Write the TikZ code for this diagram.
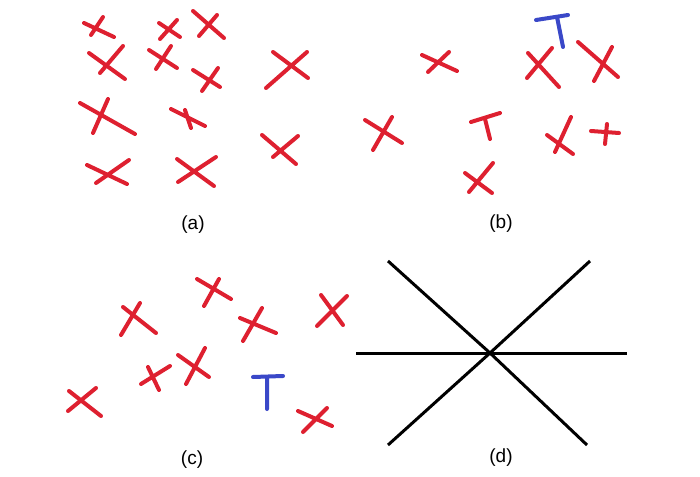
\documentclass[tikz,border=0pt]{standalone}
\usepackage{xcolor}
\usepackage{fontspec}
\setmainfont{Liberation Sans}
\usepackage{tikz}
\definecolor{penred}{RGB}{222,32,48}
\definecolor{penblue}{RGB}{58,72,200}

\begin{document}
\begin{tikzpicture}[
  x=0.5pt, y=-0.5pt,
  xmark/.style={draw=penred, line width=2pt, line cap=round},
  tmark/.style={draw=penblue, line width=2pt, line cap=round},
  ray/.style={draw=black, line width=1.5pt},
  lbl/.style={font=\fontsize{9.5}{11}\selectfont, inner sep=0pt}
]
\useasboundingbox (0,0) rectangle (700,476);

% (a)
\draw[xmark] (84,23) -- (114,37) (103,17) -- (91,35);
\draw[xmark] (159,23) -- (180,37) (177,20) -- (160,39);
\draw[xmark] (193,11) -- (224,38) (217,15) -- (199,36);
\draw[xmark] (89,53) -- (125,79) (123,46) -- (100,73);
\draw[xmark] (149,50) -- (177,68) (171,46) -- (156,69);
\draw[xmark] (193,70) -- (220,87) (218,68) -- (202,91);
\draw[xmark] (273,52) -- (308,78) (307,52) -- (266,88);
\draw[xmark] (80,103) -- (135,134) (108,99) -- (93,133);
\draw[xmark] (171,109) -- (205,126) (185,110) -- (191,128);
\draw[xmark] (262,135) -- (296,164) (298,136) -- (273,157);
\draw[xmark] (87,165) -- (127,184) (129,160) -- (96,183);
\draw[xmark] (177,159) -- (214,186) (216,157) -- (178,182);
\node[lbl] (lbla) at (193,225) {(a)};

% (b)
\draw[tmark] (536,20) -- (568,15) (557,17) -- (563,47);
\draw[xmark] (422,55) -- (457,71) (449,52) -- (428,72);
\draw[xmark] (528,53) -- (559,87) (552,48) -- (527,78);
\draw[xmark] (578,42) -- (618,77) (612,47) -- (594,81);
\draw[xmark] (365,120) -- (402,143) (392,117) -- (373,150);
\draw[xmark] (471,122) -- (500,113) (485,119) -- (490,139);
\draw[xmark] (547,135) -- (573,154) (571,117) -- (555,152);
\draw[xmark] (591,131) -- (619,133) (607,124) -- (605,144);
\draw[xmark] (465,173) -- (492,193) (493,163) -- (469,192);
\node[lbl] (lblb) at (501,224) {(b)};

% (c)
\draw[xmark] (197,279) -- (231,299) (219,279) -- (204,306);
\draw[xmark] (123,307) -- (156,333) (140,303) -- (121,335);
\draw[xmark] (240,318) -- (276,333) (262,308) -- (243,341);
\draw[xmark] (321,295) -- (343,325) (347,296) -- (317,326);
\draw[xmark] (178,355) -- (209,377) (205,348) -- (186,384);
\draw[xmark] (141,384) -- (170,366) (148,367) -- (159,390);
\draw[xmark] (69,391) -- (101,416) (96,388) -- (68,411);
\draw[tmark] (253,377) -- (283,376) (267,377) -- (267,409);
\draw[xmark] (298,411) -- (332,426) (327,408) -- (303,432);
\node[lbl] (lblc) at (192,460) {(c)};

% (d)
\coordinate (o) at (490,353);
\draw[ray] (356,353) -- (627,353);
\draw[ray] (388,261) -- (o) -- (587,445);
\draw[ray] (590,261) -- (o) -- (388,445);
\node[lbl] (lbld) at (501,458) {(d)};
\end{tikzpicture}
\end{document}
